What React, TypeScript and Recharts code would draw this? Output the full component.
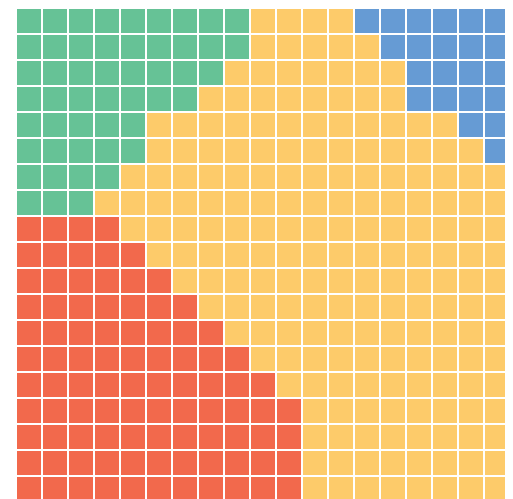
import { Cell, Scatter, ScatterChart, XAxis, YAxis } from "recharts";

// waffle grid: 19 columns, counts per row read left to right (red, green, yellow, blue)
const COLUMNS = 19;
const RED_PER_ROW = [0, 0, 0, 0, 0, 0, 0, 0, 4, 5, 6, 7, 8, 9, 10, 11, 11, 11, 11];
const GREEN_PER_ROW = [9, 9, 8, 7, 5, 5, 4, 3, 0, 0, 0, 0, 0, 0, 0, 0, 0, 0, 0];
const YELLOW_PER_ROW = [4, 5, 7, 8, 12, 13, 15, 16, 15, 14, 13, 12, 11, 10, 9, 8, 8, 8, 8];
const BLUE_PER_ROW = [6, 5, 4, 4, 2, 1, 0, 0, 0, 0, 0, 0, 0, 0, 0, 0, 0, 0, 0];

const COLORS: Record<string, string> = {
  red: "#f2694c",
  green: "#66c296",
  yellow: "#fdcb6a",
  blue: "#669bd4",
};

type WaffleCell = { col: number; row: number; group: string };

function buildCells(): WaffleCell[] {
  const cells: WaffleCell[] = [];
  RED_PER_ROW.forEach((_, row) => {
    const groups: [string, number][] = [
      ["red", RED_PER_ROW[row]],
      ["green", GREEN_PER_ROW[row]],
      ["yellow", YELLOW_PER_ROW[row]],
      ["blue", BLUE_PER_ROW[row]],
    ];
    let col = 0;
    groups.forEach(([group, count]) => {
      for (let i = 0; i < count; i++) {
        cells.push({ col: col + 0.5, row: row + 0.5, group });
        col++;
      }
    });
  });
  return cells;
}

const cells = buildCells();

const Square = (props: any) => {
  const { cx, cy, fill } = props;
  const size = 24;
  return <rect x={cx - size / 2} y={cy - size / 2} width={size} height={size} fill={fill} />;
};

export default function App() {
  const rows = RED_PER_ROW.length;
  return (
    <div style={{ width: 505, height: 491, overflow: "hidden" }}>
      <ScatterChart width={505} height={494} margin={{ top: 0, right: 3, bottom: 0, left: 8 }}>
        <XAxis type="number" dataKey="col" domain={[0, COLUMNS]} hide />
        <YAxis type="number" dataKey="row" domain={[0, rows]} reversed hide />
        <Scatter data={cells} shape={Square} isAnimationActive={false}>
          {cells.map((c, i) => (
            <Cell key={i} fill={COLORS[c.group]} />
          ))}
        </Scatter>
      </ScatterChart>
    </div>
  );
}
